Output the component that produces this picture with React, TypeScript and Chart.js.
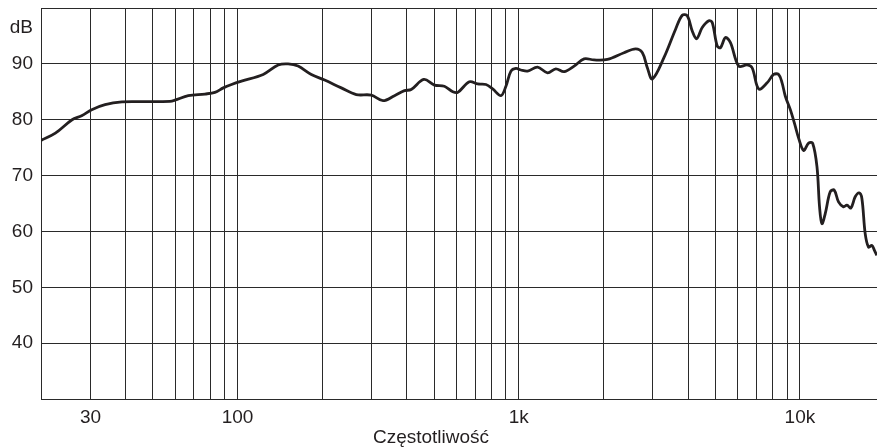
import React, { useEffect, useRef } from 'react';
import { Chart, registerables } from 'chart.js';

Chart.register(...registerables);

// Frequency response (Hz → dB)
const FREQ_HZ = [
  20, 22.5, 25.8, 27.9, 30.3, 33.8, 38.8, 45.6, 57.5, 59.9, 66.8, 76.6, 83.1, 89, 95.2,
  103.3, 123.4, 139.5, 151.3, 164.2, 183, 204, 233.9, 264.4, 298.9, 328.9, 361.6, 392.5,
  414.5, 459.7, 501.3, 543.9, 582.8, 607.2, 667.6, 714.8, 764.7, 808, 864.6, 900.6, 938.2,
  977.5, 1018, 1075, 1167, 1266, 1355, 1450, 1574, 1708, 1853, 2068, 2368, 2605, 2753,
  2867, 2987, 3284, 3613, 3816, 3975, 4141, 4289, 4494, 4743, 4877, 5080, 5219, 5437,
  5662, 6060, 6492, 6761, 7137, 7644, 8066, 8403, 8641, 8875, 9246, 9632, 9894, 10307,
  10737, 11100, 11499, 11745, 11977, 12305, 12819, 13246, 13718, 14292, 14694, 15183,
  15726, 16249, 16612, 17067, 17533, 18024, 18412, 18775,
];
const LEVEL_DB = [
  76.3, 77.6, 80.0, 80.7, 81.8, 82.7, 83.2, 83.25, 83.3, 83.5, 84.3, 84.6, 84.9, 85.7, 86.3,
  86.9, 88.1, 89.8, 90.0, 89.6, 88.1, 87.1, 85.7, 84.5, 84.4, 83.4, 84.3, 85.2,
  85.4, 87.2, 86.2, 86.0, 85.0, 84.9, 86.8, 86.4, 86.3, 85.5, 84.3, 86.0, 88.7,
  89.2, 88.9, 88.7, 89.4, 88.4, 89.1, 88.6, 89.6, 90.9, 90.7, 90.8, 92.0, 92.7, 92.0,
  89.3, 87.3, 91.1, 96.2, 98.7, 98.6, 95.9, 94.5, 96.5, 97.7, 97.4, 93.2, 92.9, 94.7,
  93.8, 89.6, 89.8, 89.3, 85.5, 86.6, 88.1, 88.1, 86.6, 84.2, 81.8, 78.8, 76.7, 74.5,
  75.8, 75.8, 71.6, 64.4, 61.4, 63.2, 67.1, 67.4, 65.3, 64.4, 64.7, 64.2,
  66.2, 66.9, 65.9, 59.6, 57.2, 57.5, 56.6, 55.7,
];

const X_MIN = 20;
const X_MAX = 18800;
const X_GRID = [
  20, 30, 40, 50, 60, 70, 80, 90, 100, 200, 300, 400, 500, 600, 700, 800, 900,
  1000, 2000, 3000, 4000, 5000, 6000, 7000, 8000, 9000, 10000,
];
const X_LABELS: Record<number, string> = { 30: '30', 100: '100', 1000: '1k', 10000: '10k' };

const Y_MIN = 30;
const Y_MAX = 100;
const Y_GRID = [30, 40, 50, 60, 70, 80, 90, 100];
const Y_LABELED = [40, 50, 60, 70, 80, 90];
const Y_UNIT = 'dB';
const Y_UNIT_AT = 96.4;
const X_TITLE = 'Częstotliwość';

const FONT = '"Liberation Sans", Arial, Helvetica, sans-serif';
const INK = '#231f20';
const GRID = '#2a2a2a';

const framePlugin = {
  id: 'freqFrame',
  afterDraw(chart: any) {
    const ctx = chart.ctx;
    const a = chart.chartArea;
    ctx.save();
    // top frame line
    ctx.strokeStyle = GRID;
    ctx.lineWidth = 1;
    ctx.beginPath();
    ctx.moveTo(a.left, Math.round(a.top) + 0.5);
    ctx.lineTo(a.right, Math.round(a.top) + 0.5);
    ctx.stroke();
    // x axis title
    ctx.font = `19px ${FONT}`;
    ctx.fillStyle = INK;
    ctx.textAlign = 'center';
    ctx.textBaseline = 'alphabetic';
    ctx.fillText(X_TITLE, 431, 443);
    ctx.restore();
  },
};

export default function App() {
  const ref = useRef<HTMLCanvasElement | null>(null);

  useEffect(() => {
    if (!ref.current) return;
    const chart = new Chart(ref.current, {
      type: 'line',
      data: {
        datasets: [
          {
            data: FREQ_HZ.map((f, i) => ({ x: f, y: LEVEL_DB[i] })),
            borderColor: INK,
            borderWidth: 2.8,
            pointRadius: 0,
            tension: 0.35,
            fill: false,
          },
        ],
      },
      options: {
        animation: false,
        responsive: false,
        devicePixelRatio: 1,
        layout: { padding: { top: 8, left: 0, right: 0, bottom: 0 } },
        plugins: { legend: { display: false }, tooltip: { enabled: false }, title: { display: false } },
        scales: {
          x: {
            type: 'logarithmic',
            min: X_MIN,
            max: X_MAX,
            afterBuildTicks: (scale: any) => {
              scale.ticks = X_GRID.map((v) => ({ value: v }));
            },
            afterFit: (scale: any) => {
              scale.height = 48;
              scale.paddingLeft = 0;
              scale.paddingRight = 0;
            },
            ticks: {
              autoSkip: false,
              maxRotation: 0,
              minRotation: 0,
              padding: 7,
              color: INK,
              font: { family: FONT, size: 19 },
              callback: (v: any) => X_LABELS[Number(v)] ?? '',
            },
            grid: { color: GRID, lineWidth: 1, drawTicks: false },
            border: { display: true, color: GRID, width: 1 },
          },
          y: {
            type: 'linear',
            min: Y_MIN,
            max: Y_MAX,
            afterBuildTicks: (scale: any) => {
              scale.ticks = [...Y_GRID, Y_UNIT_AT].sort((a, b) => a - b).map((v) => ({ value: v }));
            },
            afterFit: (scale: any) => {
              scale.width = 41;
              scale.paddingTop = 0;
              scale.paddingBottom = 0;
            },
            ticks: {
              autoSkip: false,
              padding: 8,
              color: INK,
              font: { family: FONT, size: 19 },
              callback: (v: any) => {
                const n = Number(v);
                if (n === Y_UNIT_AT) return Y_UNIT;
                return Y_LABELED.includes(n) ? String(n) : '';
              },
            },
            grid: {
              color: (ctx: any) => (ctx.tick && ctx.tick.value === Y_UNIT_AT ? 'rgba(0,0,0,0)' : GRID),
              lineWidth: 1,
              drawTicks: false,
            },
            border: { display: true, color: GRID, width: 1 },
          },
        },
      },
      plugins: [framePlugin],
    } as any);
    return () => chart.destroy();
  }, []);

  return (
    <div style={{ position: 'absolute', left: 0, top: 0, width: 877, height: 447, background: '#fff' }}>
      <canvas ref={ref} width={877} height={447} style={{ display: 'block', width: 877, height: 447 }} />
    </div>
  );
}
